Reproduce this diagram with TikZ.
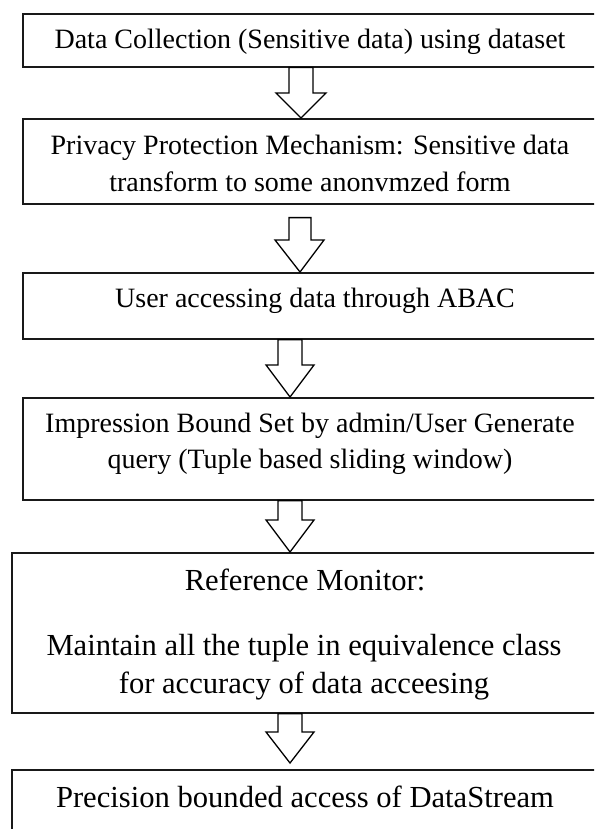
\documentclass[tikz,border=0pt]{standalone}
\usepackage{fontspec}
\setmainfont{Liberation Serif}
\tikzset{
  stage/.style={draw=black!90, line width=1.6pt, inner sep=0pt, anchor=north west},
  lbl/.style={anchor=base, inner sep=0pt, font=\fontsize{28}{34}\selectfont},
  lblbig/.style={lbl, font=\fontsize{30.6}{36}\selectfont},
  flow/.style={draw=black, line width=1.3pt, fill=white, line join=miter},
}
\begin{document}
\begin{tikzpicture}[x=1pt, y=-1pt]
\useasboundingbox (0,0) rectangle (594,829);
\clip (0,0) rectangle (594,829);

% process stages
\node[stage, minimum width=576pt, minimum height=53pt]  (b1) at (22,13)  {};
\node[stage, minimum width=576pt, minimum height=85pt]  (b2) at (22,118) {};
\node[stage, minimum width=576pt, minimum height=66pt]  (b3) at (22,272) {};
\node[stage, minimum width=576pt, minimum height=102pt] (b4) at (22,397) {};
\node[stage, minimum width=587pt, minimum height=160pt] (b5) at (11,552) {};
\node[stage, minimum width=587pt, minimum height=100pt] (b6) at (11,769) {};

% stage texts
\node[lbl] (t1)  at (310,49)  {Data Collection (Sensitive data) using dataset};
\node[lbl] (t2a) at (310,155) {Privacy Protection Mechanism: Sensitive data};
\node[lbl] (t2b) at (310,192) {transform to some anonvmzed form};
\node[lbl] (t3)  at (315,307) {User accessing data through ABAC};
\node[lbl] (t4a) at (310,432) {Impression Bound Set by admin/User Generate};
\node[lbl] (t4b) at (310,468) {query (Tuple based sliding window)};
\node[lblbig] (t5a) at (305,590) {Reference Monitor:};
\node[lblbig] (t5b) at (304,655) {Maintain all the tuple in equivalence class};
\node[lblbig] (t5c) at (304,693) {for accuracy of data acceesing};
\node[lblbig] (t6)  at (305,807) {Precision bounded access of DataStream};

% hollow block arrows between stages
\draw[flow] (b1.south -| 289,0) -- (289,93) -- (276,93) -- (b2.north -| 301,0)
  -- (326,93) -- (313,93) -- (b1.south -| 313,0) -- cycle;
\draw[flow] ([yshift=-13pt]b2.south -| 289,0) -- (289,240) -- (275,240) -- (b3.north -| 300,0)
  -- (324,240) -- (311,240) -- ([yshift=-13pt]b2.south -| 311,0) -- cycle;
\draw[flow] (b3.south -| 278,0) -- (278,365) -- (266,365) -- (b4.north -| 290,0)
  -- (314,365) -- (302,365) -- (b3.south -| 302,0) -- cycle;
\draw[flow] (b4.south -| 278,0) -- (278,520) -- (266,520) -- (b5.north -| 290,0)
  -- (314,520) -- (302,520) -- (b4.south -| 302,0) -- cycle;
\draw[flow] (b5.south -| 278,0) -- (278,732) -- (266,732) -- ([yshift=6pt]b6.north -| 290,0)
  -- (314,732) -- (302,732) -- (b5.south -| 302,0) -- cycle;
\end{tikzpicture}
\end{document}
